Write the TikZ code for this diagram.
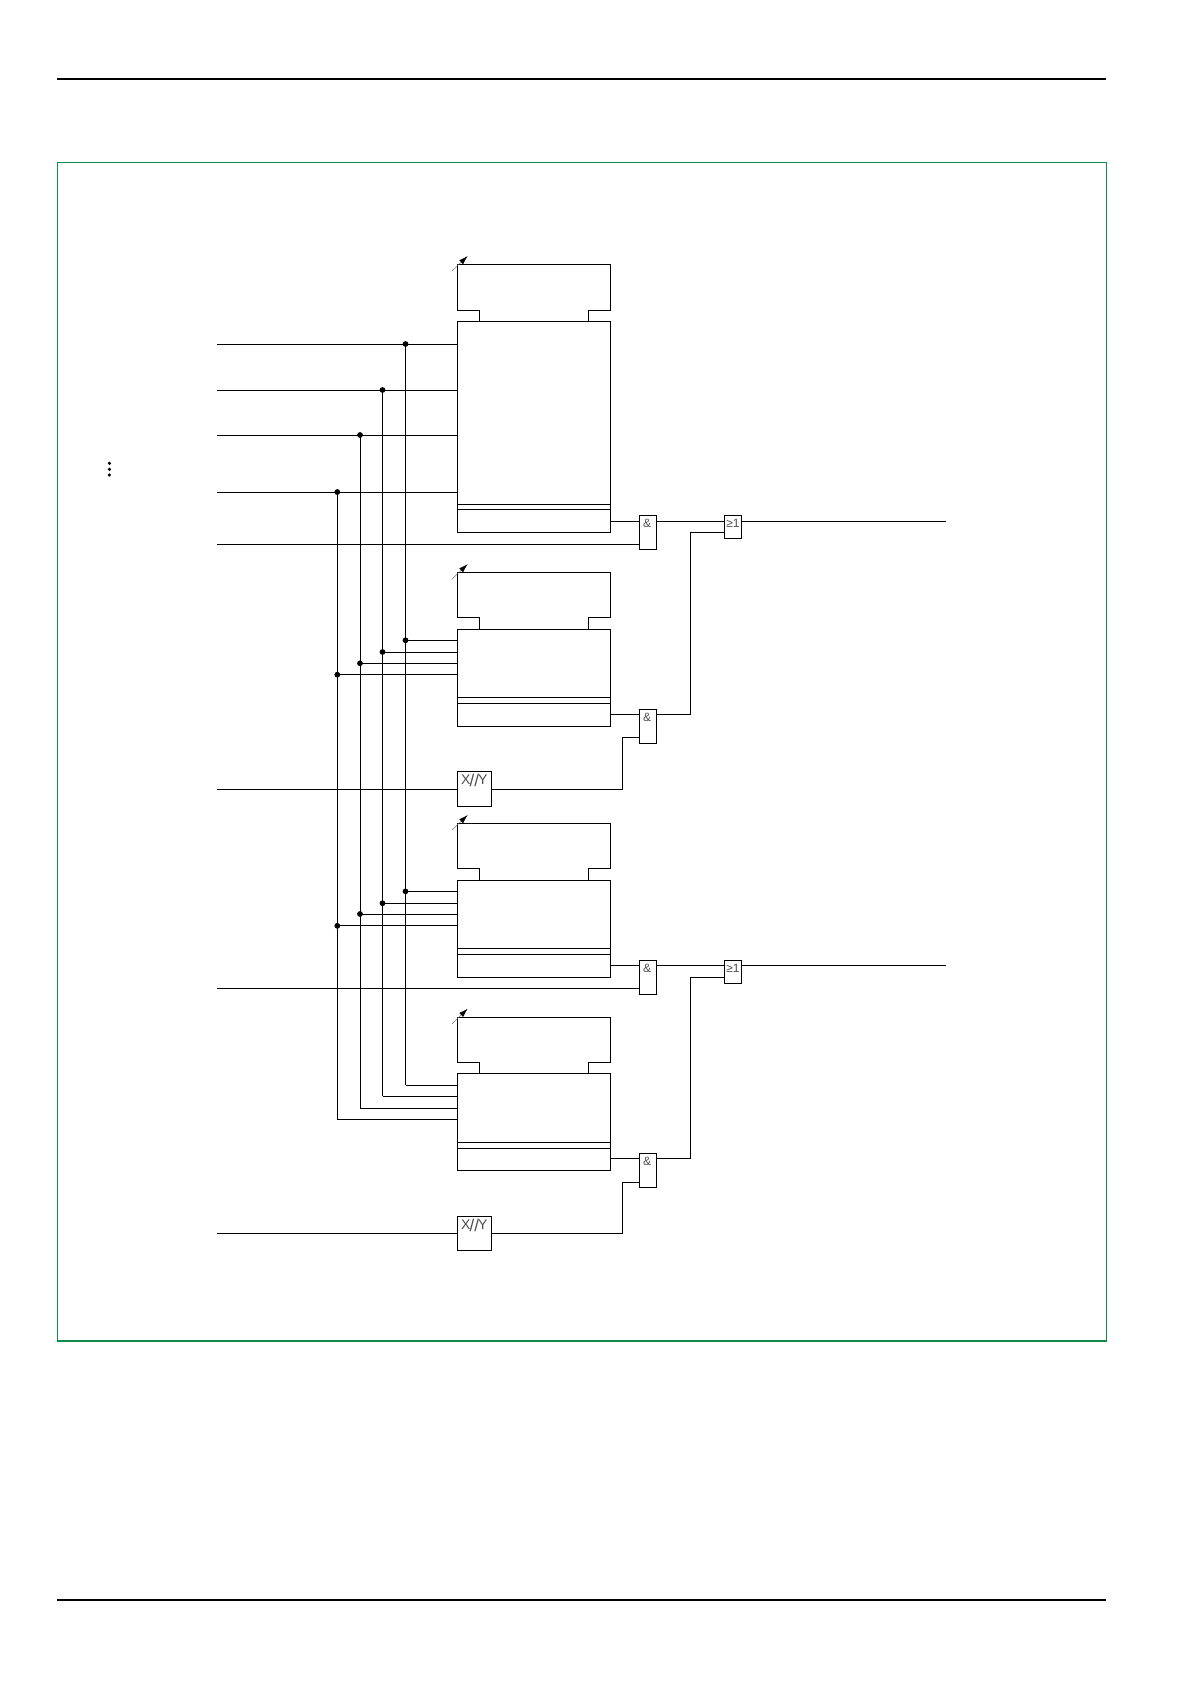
\documentclass[tikz,border=0pt]{standalone}
\usepackage{fontspec}
\setmainfont{Liberation Sans}
\usetikzlibrary{calc, arrows.meta}
\definecolor{framegreen}{RGB}{16,138,72}

\begin{document}
\begin{tikzpicture}[x=1pt, y=-1pt, line width=1pt,
  blockmain/.style={draw, rectangle, inner sep=0pt, outer sep=0pt, minimum width=153.5pt, anchor=north west},
  gate/.style={draw, rectangle, inner sep=0pt, outer sep=0pt, minimum width=17.4pt, anchor=north west},
  ratiobox/.style={draw, rectangle, inner sep=0pt, outer sep=0pt, minimum width=34.6pt, minimum height=34.6pt, anchor=north west},
  gatetext/.style={inner sep=0pt, anchor=north, font=\fontsize{12}{13}\selectfont, text=black!70},
  junction/.style={circle, fill=black, inner sep=0pt, minimum size=5.8pt},
  pagerule/.style={line width=2.2pt}]
  \useasboundingbox (0,0) rectangle (1191,1684);
  % page rules and frame
  \coordinate (ruleAl) at (57,79);
  \coordinate (ruleAr) at (1106,79);
  \coordinate (ruleBl) at (57,1600);
  \coordinate (ruleBr) at (1106,1600);
  \draw[pagerule] (ruleAl) -- (ruleAr);
  \draw[pagerule] (ruleBl) -- (ruleBr);
  \draw[framegreen, line width=1.2pt] (57.3,162.7) rectangle (1106.7,1341);
  \draw[framegreen, line width=1.9pt] (57.3,1341) -- (1106.7,1341);
  \foreach \y [count=\i] in {463.3,469.3,475}
    \node[circle, fill=black, inner sep=0pt, minimum size=3.6pt] (vdot\i) at (109.4,\y) {};
  % blocks: name/upper top/upper bottom/main top/inner lines/main bottom
  \foreach \n/\ya/\yb/\yc/\yd/\ye/\yf in {
      1/264.3/310.3/321/504.3/509.3/532.3,
      2/572.4/617.7/629.3/697.3/703.3/726,
      3/823.3/868.9/880.7/948.3/954.8/977.3,
      4/1017/1062.7/1073.3/1142.3/1148.3/1170.3} {
    \pgfmathsetmacro{\hh}{\yf-\yc}
    \node[blockmain, minimum height=\hh pt] (block\n) at (457,\yc) {};
    \draw (479.3,\yc) -- (479.3,\yb) -- (457,\yb) -- (457,\ya) -- (610.5,\ya) -- (610.5,\yb) -- (588.3,\yb) -- (588.3,\yc);
    \draw (block\n.west |- 0,\yd) -- (block\n.east |- 0,\yd);
    \draw (block\n.west |- 0,\ye) -- (block\n.east |- 0,\ye);
    \draw[line width=0.5pt, black!55, -{Latex[length=9pt,width=5.5pt,black]}] (452,\ya+6.7) -- (467.7,\ya-8.3);
  }
  % gates
  \node[gate, minimum height=34pt] (and1) at (639.3,515.3) {};
  \node[gate, minimum height=34pt] (and2) at (639.3,709.3) {};
  \node[gate, minimum height=34pt] (and3) at (639.3,960.3) {};
  \node[gate, minimum height=34pt] (and4) at (639.3,1153.6) {};
  \node[gate, minimum height=23pt] (or1) at (724.3,515.3) {};
  \node[gate, minimum height=23pt] (or2) at (724.3,960.3) {};
  \node[ratiobox] (ratio1) at (457,771.5) {};
  \node[ratiobox] (ratio2) at (457,1216.3) {};
  \foreach \g in {and1,and2,and3,and4}
    \node[gatetext] (\g txt) at ($(\g.north)+(-1,3.5)$) {\&};
  \foreach \g in {or1,or2}
    \node[gatetext] (\g txt) at ($(\g.north)+(0,3.5)$) {≥1};
  \foreach \g in {ratio1,ratio2}
    \node[gatetext, font=\fontsize{14}{15}\selectfont] (\g txt) at ($(\g.north)+(0,2)$) {X\kern-1pt\raisebox{-1.5pt}{\fontsize{17}{17}\selectfont//}\kern-1pt Y};
  % signal inputs
  \coordinate (inA) at (217,344);
  \coordinate (inB) at (217,390);
  \coordinate (inC) at (217,435);
  \coordinate (inD) at (217,492);
  \coordinate (inE) at (217,544.3);
  \coordinate (inF) at (217,789);
  \coordinate (inG) at (217,988);
  \coordinate (inH) at (217,1233.5);
  \coordinate (outA) at (946,521.3);
  \coordinate (outB) at (946,965.6);
  % shared lines
  \node[junction] (jA1) at (405.5,344) {};
  \node[junction] (jB1) at (382.5,390) {};
  \node[junction] (jC1) at (360,435) {};
  \node[junction] (jD1) at (337.3,492) {};
  \node[junction] (jA2) at (405.5,640.3) {};
  \node[junction] (jB2) at (382.5,652) {};
  \node[junction] (jC2) at (360,663.3) {};
  \node[junction] (jD2) at (337.3,674.7) {};
  \node[junction] (jA3) at (405.5,891.4) {};
  \node[junction] (jB3) at (382.5,903.2) {};
  \node[junction] (jC3) at (360,914) {};
  \node[junction] (jD3) at (337.3,925.8) {};
  \coordinate (jA4) at (405.5,1085);
  \coordinate (jB4) at (382.5,1096.3);
  \coordinate (jC4) at (360,1108.3);
  \coordinate (jD4) at (337.3,1119.3);
  \draw (inA) -- (block1.west |- inA);
  \draw (inB) -- (block1.west |- inB);
  \draw (inC) -- (block1.west |- inC);
  \draw (inD) -- (block1.west |- inD);
  \foreach \s in {A,B,C,D} {
    \draw (j\s1.center) -- (j\s4);
    \draw (j\s2.center) -- (block2.west |- j\s2);
    \draw (j\s3.center) -- (block3.west |- j\s3);
    \draw (j\s4) -- (block4.west |- j\s4);
  }
  \draw (inE) -- (and1.west |- inE);
  \draw (inG) -- (and3.west |- inG);
  \draw (inF) -- (ratio1.west |- inF);
  \draw (inH) -- (ratio2.west |- inH);
  % outputs
  \draw (block1.east |- outA) -- (and1.west |- outA);
  \draw (and1.east |- outA) -- (or1.west |- outA);
  \draw (or1.east |- outA) -- (outA);
  \draw (block3.east |- outB) -- (and3.west |- outB);
  \draw (and3.east |- outB) -- (or2.west |- outB);
  \draw (or2.east |- outB) -- (outB);
  \draw (block2.east |- 0,714.3) -- (and2.west |- 0,714.3);
  \draw (block4.east |- 0,1158.8) -- (and4.west |- 0,1158.8);
  \draw (and2.east |- 0,714.3) -- (690.3,714.3) -- (690.3,532.3) -- (or1.west |- 0,532.3);
  \draw (and4.east |- 0,1158.8) -- (690.3,1158.8) -- (690.3,977.3) -- (or2.west |- 0,977.3);
  \draw (ratio1.east |- inF) -- (622.3,789) -- (622.3,737.3) -- (and2.west |- 0,737.3);
  \draw (ratio2.east |- inH) -- (622.3,1233.5) -- (622.3,1182.5) -- (and4.west |- 0,1182.5);
\end{tikzpicture}
\end{document}
